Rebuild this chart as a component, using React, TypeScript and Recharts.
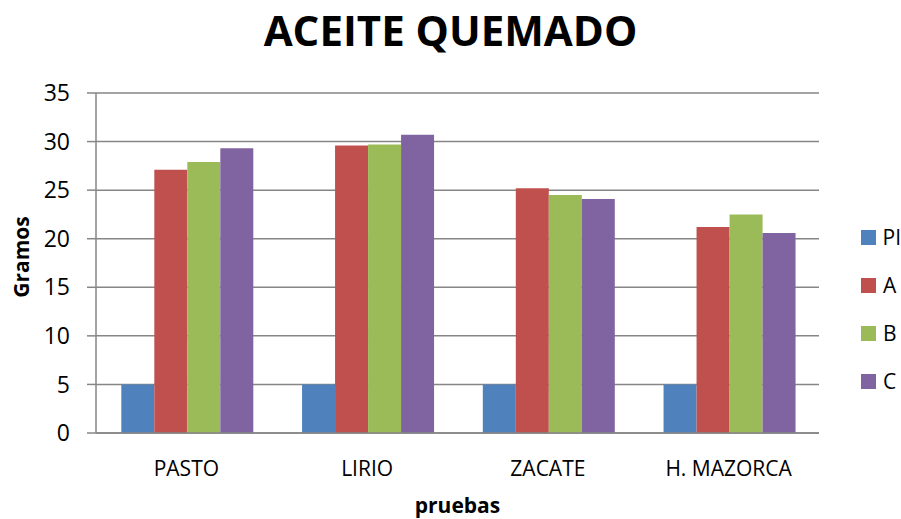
import { BarChart, Bar, XAxis, YAxis, CartesianGrid, Legend } from 'recharts'

const categories = ['PASTO', 'LIRIO', 'ZACATE', 'H. MAZORCA']
const seriesPI = [5, 5, 5, 5]
const seriesA = [27.1, 29.6, 25.2, 21.2]
const seriesB = [27.9, 29.7, 24.5, 22.5]
const seriesC = [29.3, 30.7, 24.1, 20.6]
const yTicks = [0, 5, 10, 15, 20, 25, 30, 35]

const series = [
  { key: 'PI', color: '#4F81BD' },
  { key: 'A', color: '#C0504D' },
  { key: 'B', color: '#9BBB59' },
  { key: 'C', color: '#8064A2' },
]

const data = categories.map((name, i) => ({
  name,
  PI: seriesPI[i],
  A: seriesA[i],
  B: seriesB[i],
  C: seriesC[i],
}))

const font = '"Open Sans", sans-serif'
const gray = '#868686'

function LegendBox() {
  return (
    <div style={{ width: 82, fontFamily: font, fontSize: 21, color: '#000' }}>
      {series.map(s => (
        <div key={s.key} style={{ height: 48, display: 'flex', alignItems: 'center' }}>
          <span style={{ display: 'inline-block', width: 15, height: 15, marginLeft: 42, marginRight: 7, background: s.color }} />
          <span>{s.key}</span>
        </div>
      ))}
    </div>
  )
}

export default function App() {
  return (
    <div style={{ position: 'absolute', left: 0, top: 0, width: 901, height: 519, background: '#fff' }}>
      <div
        style={{
          position: 'absolute', top: 9, left: 0, width: 901, textAlign: 'center',
          fontFamily: font, fontWeight: 700, fontSize: 42, lineHeight: 1, color: '#000',
        }}
      >
        ACEITE QUEMADO
      </div>
      <BarChart
        width={901}
        height={519}
        data={data}
        margin={{ top: 93, right: 0, bottom: 0, left: 0 }}
        barCategoryGap="14%"
        barGap={0}
      >
        <CartesianGrid vertical={false} stroke={gray} strokeWidth={1.5} />
        <XAxis
          dataKey="name"
          height={86}
          tickLine={false}
          tickSize={0}
          tickMargin={28}
          axisLine={{ stroke: gray, strokeWidth: 1.5 }}
          tick={{ fill: '#000', fontSize: 21, fontFamily: font }}
          label={{ value: 'pruebas', position: 'insideBottom', offset: 6, fill: '#000', fontSize: 21, fontWeight: 700, fontFamily: font }}
        />
        <YAxis
          width={96}
          domain={[0, 35]}
          ticks={yTicks}
          interval={0}
          tickSize={9}
          tickMargin={17}
          tickLine={{ stroke: gray, strokeWidth: 1.5 }}
          axisLine={{ stroke: gray, strokeWidth: 1.5 }}
          tick={{ fill: '#000', fontSize: 23, fontFamily: font }}
          label={{
            content: (props: any) => {
              const vb = props.viewBox || { x: 0, y: 93, width: 96, height: 340 }
              const cx = vb.x + 21
              const cy = vb.y + vb.height / 2 - 6
              return (
                <text
                  x={cx}
                  y={cy}
                  transform={`rotate(-90 ${cx} ${cy})`}
                  textAnchor="middle"
                  dominantBaseline="central"
                  fontFamily={font}
                  fontWeight={700}
                  fontSize={21}
                  fill="#000"
                >
                  Gramos
                </text>
              )
            },
          }}
        />
        <Legend
          layout="vertical"
          align="right"
          verticalAlign="middle"
          content={() => <LegendBox />}
          wrapperStyle={{ top: 213, right: 0 }}
        />
        {series.map(s => (
          <Bar key={s.key} dataKey={s.key} fill={s.color} isAnimationActive={false} />
        ))}
      </BarChart>
    </div>
  )
}
